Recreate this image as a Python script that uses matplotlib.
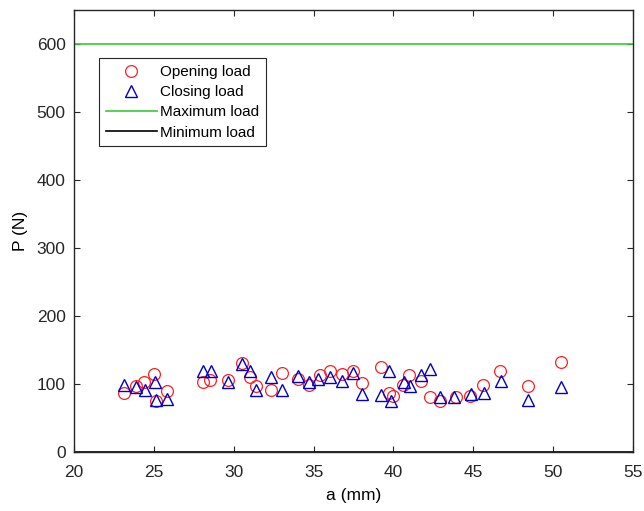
import numpy as np
import matplotlib.pyplot as plt

plt.rcParams['font.family'] = ['Liberation Sans', 'DejaVu Sans']

# crack length a (mm) and loads P (N)
a_open = [23.1, 23.9, 24.4, 25.0, 25.15, 25.8, 28.1, 28.5, 29.65,
          30.5, 31.0, 31.4, 32.3, 33.0, 34.0, 34.7, 35.4, 36.0, 36.8,
          37.45, 38.05, 39.2, 39.7, 40.0, 40.6, 41.0, 41.7, 42.3, 42.9,
          43.9, 44.8, 45.6, 46.7, 48.45, 50.5]
p_open = [87, 98, 104, 115, 75, 90, 104, 106, 106,
          131, 110, 98, 92, 117, 108, 99, 114, 119, 115,
          119, 102, 125, 87, 82, 99, 113, 105, 81, 76,
          81, 82, 99, 119, 98, 132]

a_close = [23.1, 23.9, 24.45, 25.05, 25.15, 25.85, 28.05, 28.6, 29.65,
           30.5, 31.0, 31.4, 32.3, 33.0, 34.0, 34.7, 35.3, 36.0, 36.8,
           37.45, 38.0, 39.2, 39.75, 39.85, 40.65, 41.05, 41.7, 42.3, 42.9,
           43.8, 44.85, 45.65, 46.75, 48.45, 50.5]
p_close = [99, 96, 91, 103, 77, 79, 120, 120, 104,
           130, 119, 92, 110, 91, 112, 104, 108, 111, 105,
           117, 86, 84, 119, 76, 103, 97, 114, 122, 81,
           81, 86, 87, 105, 77, 96]

max_load = 600
min_load = 0

fig, ax = plt.subplots(figsize=(6.44, 5.11), dpi=100)
fig.subplots_adjust(left=0.115, right=0.983, top=0.98, bottom=0.115)

ax.plot(a_open, p_open, 'o', mfc='none', mec='#ff2020', ms=8.5, mew=0.9,
        label='Opening load')
ax.plot(a_close, p_close, '^', mfc='none', mec='#0000cc', ms=9, mew=1.0,
        label='Closing load')
ax.axhline(max_load, color='#33cc33', lw=1.2, label='Maximum load')
ax.axhline(min_load, color='black', lw=1.2, label='Minimum load')

ax.set_xlim(20, 55)
ax.set_ylim(0, 650)
ax.set_xticks(np.arange(20, 56, 5))
ax.set_yticks(np.arange(0, 601, 100))
ax.set_xlabel('a (mm)', fontsize=12.5, labelpad=6)
ax.set_ylabel('P (N)', fontsize=12.5, labelpad=6)
ax.tick_params(direction='in', top=True, right=True, labelsize=12.5,
               colors='#262626', length=4)
ax.tick_params(axis='x', pad=9)
ax.tick_params(axis='y', pad=6)
for s in ax.spines.values():
    s.set_color('#262626')
    s.set_linewidth(1.0)

leg = ax.legend(loc='upper left', bbox_to_anchor=(0.045, 0.891), fontsize=11,
                fancybox=False, framealpha=1, edgecolor='#262626',
                handlelength=3.3, borderpad=0.45, labelspacing=0.4,
                handletextpad=0.25, borderaxespad=0)
leg.get_frame().set_linewidth(0.8)

fig.savefig('out.png', dpi=100)
